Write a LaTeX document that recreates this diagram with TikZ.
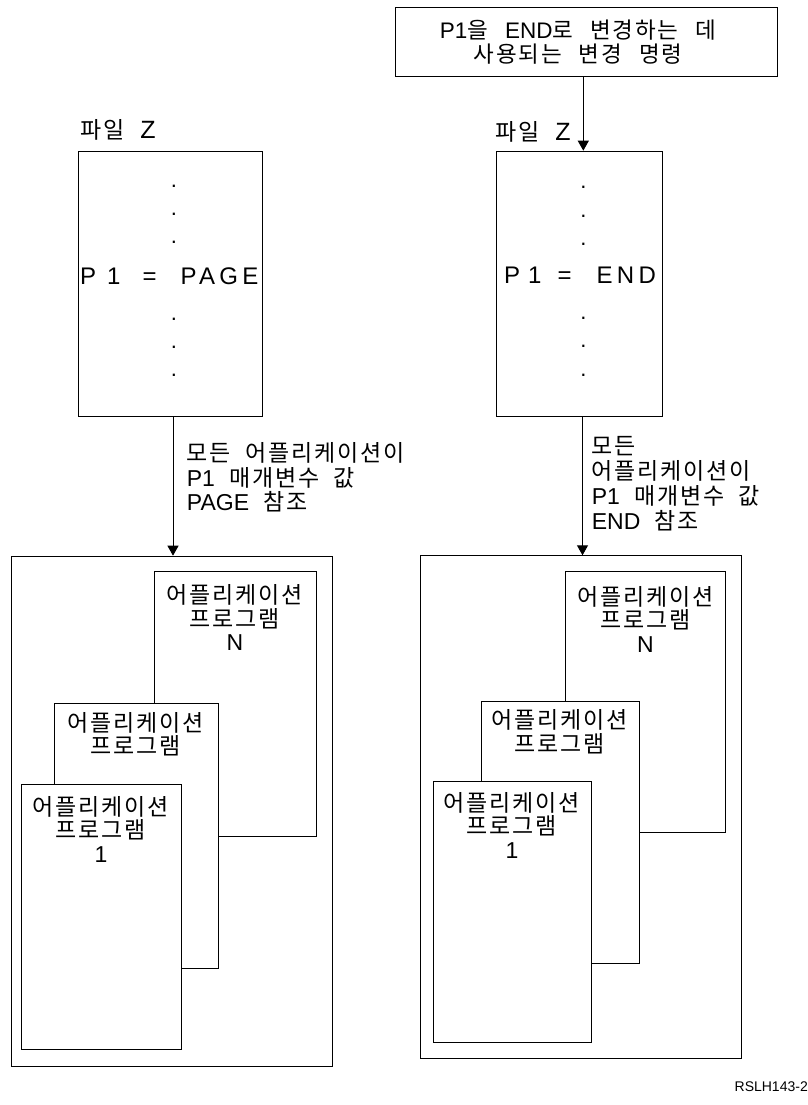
\documentclass[tikz,border=0pt]{standalone}
\usepackage{fontspec}
\setmainfont{Liberation Sans}
\newfontfamily\krfont[LetterSpace=8,Kerning=Off]{Noto Sans CJK KR}
\newfontfamily\widefont[LetterSpace=18]{Liberation Sans}
\usetikzlibrary{arrows.meta}
\newcommand{\ko}[1]{{\krfont #1}}
\newcommand{\kgap}{\hspace{14pt}}
\newcommand{\lab}{\fontsize{23}{24.5}\selectfont}
\begin{document}
\begin{tikzpicture}[x=1pt,y=-1pt,
  box/.style={draw,line width=1pt,inner sep=0,anchor=north west,fill=white},
  arr/.style={draw,line width=1pt,-{Triangle[width=11pt,length=10pt]}},
  txt/.style={inner sep=0,font=\lab},
  apptxt/.style={inner sep=0,align=center,font=\fontsize{23}{23.5}\selectfont},
  dot/.style={inner sep=0,font=\fontsize{22}{22}\selectfont},
  big/.style={inner sep=0,font=\fontsize{24}{24}\selectfont\widefont},
  topline/.style={inner sep=0,font=\fontsize{22.5}{22.5}\selectfont,text height=16pt,text depth=3pt}]
\useasboundingbox (0,0) rectangle (808,1105);

% top box
\node[box,minimum width=382pt,minimum height=68.4pt] (top) at (395,7.3) {};
\node[topline] (top1) at (578,32.5)
  {P1\ko{을}\hspace{17pt}END\ko{로}\hspace{17pt}\ko{변경하는}\hspace{17pt}\ko{데}};
\node[topline] (top2) at (578,56)
  {\ko{사용되는}\hspace{17pt}\ko{변경}\hspace{17pt}\ko{명령}};

% file boxes
\node[box,minimum width=184.6pt,minimum height=265pt] (fileL) at (77.7,150.7) {};
\node[box,minimum width=166.6pt,minimum height=265pt] (fileR) at (495.7,150.7) {};
\node[txt,anchor=west] (labL) at (80,130) {\ko{파일}\hspace{16pt}{\fontsize{25}{25}\selectfont Z}};
\node[txt,anchor=west] (labR) at (495,131.7) {\ko{파일}\hspace{16pt}{\fontsize{25}{25}\selectfont Z}};

\foreach \y [count=\i] in {186,214,242.3,319,347.3,375.7}
  \node[dot] (dL\i) at (174,\y) {.};
\foreach \y [count=\i] in {187,216,244,318,346,375}
  \node[dot] (dR\i) at (583.3,\y) {.};
\node[big,anchor=west] (p1L) at (80,276.5) {P\hspace{11pt}1\hspace{22pt}=\hspace{24pt}PAGE};
\node[big,anchor=west] (p1R) at (504,275.7) {P\hspace{8pt}1\hspace{16pt}=\hspace{25pt}END};

% containers
\node[box,minimum width=321pt,minimum height=510pt] (contL) at (11,555.7) {};
\node[box,minimum width=321pt,minimum height=503pt] (contR) at (420,555.3) {};

% left application programs
\node[box,minimum width=162.6pt,minimum height=265.5pt] (NL) at (153.7,570.5) {};
\node[box,minimum width=164.6pt,minimum height=265pt] (ML) at (53.7,703.3) {};
\node[box,minimum width=160pt,minimum height=265.3pt] (OL) at (21,783.7) {};
\node[apptxt] (NLt) at (235,617.5) {\ko{어플리케이션}\\\ko{프로그램}\\N};
\node[apptxt] (MLt) at (136,734) {\ko{어플리케이션}\\\ko{프로그램}};
\node[apptxt] (OLt) at (101,829) {\ko{어플리케이션}\\\ko{프로그램}\\1};

% right application programs
\node[box,minimum width=160pt,minimum height=261.3pt] (NR) at (565.3,570.7) {};
\node[box,minimum width=157.4pt,minimum height=261.4pt] (MR) at (481.3,701.3) {};
\node[box,minimum width=157.4pt,minimum height=261.3pt] (OR) at (433.3,781) {};
\node[apptxt] (NRt) at (645.3,619) {\ko{어플리케이션}\\\ko{프로그램}\\N};
\node[apptxt] (MRt) at (560,731.5) {\ko{어플리케이션}\\\ko{프로그램}};
\node[apptxt] (ORt) at (512,825) {\ko{어플리케이션}\\\ko{프로그램}\\1};

% arrows
\coordinate (axT) at (583.3,0);
\coordinate (axL) at (173,0);
\coordinate (axR) at (582.5,0);
\draw[arr] (top.south -| axT) -- (fileR.north -| axT);
\draw[arr] (fileL.south -| axL) -- (contL.north -| axL);
\draw[arr] (fileR.south -| axR) -- (contR.north -| axR);

% arrow labels
\node[txt,anchor=west,align=left] (aL) at (186.7,477.5)
  {\ko{모든}\kgap\ko{어플리케이션이}\\P1\kgap\ko{매개변수}\kgap\ko{값}\\PAGE\kgap\ko{참조}};
\node[txt,anchor=west,align=left,font=\fontsize{23}{25}\selectfont] (aR) at (591.7,484)
  {\ko{모든}\\\ko{어플리케이션이}\\P1\kgap\ko{매개변수}\kgap\ko{값}\\END\kgap\ko{참조}};

\node[inner sep=0,anchor=east,font=\fontsize{14}{14}\selectfont] (ref) at (808,1087) {RSLH143-2};
\end{tikzpicture}
\end{document}
